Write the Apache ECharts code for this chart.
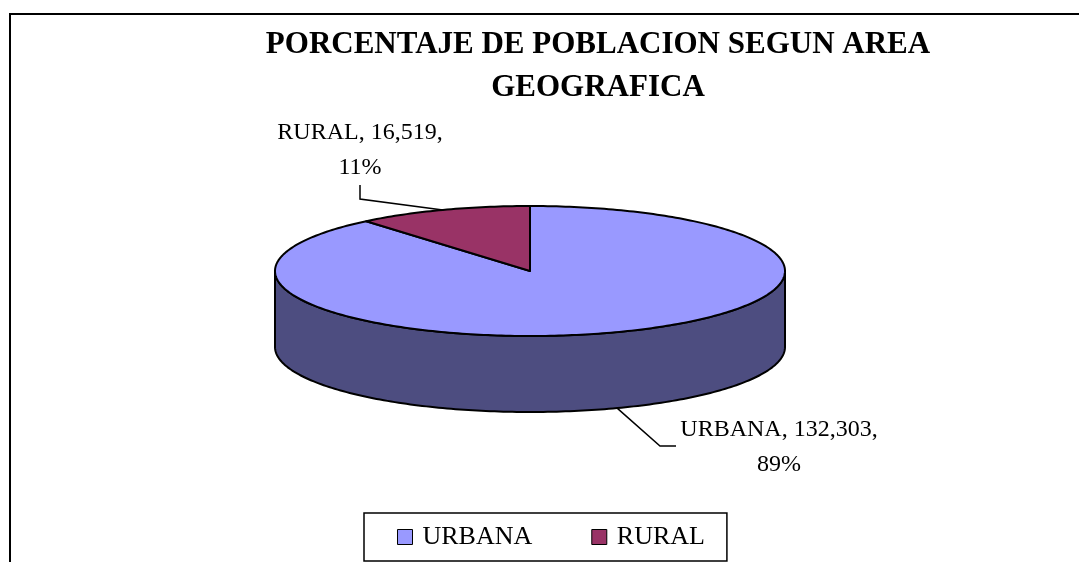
<!DOCTYPE html>
<html><head><meta charset="utf-8">
<script src="https://cdn.jsdelivr.net/npm/echarts@6/dist/echarts.min.js"></script>
<style>html,body{margin:0;padding:0;background:#fff}#c{width:1079px;height:562px}</style>
</head><body><div id="c"></div>
<script>
// ---- data ----
const categories = ['URBANA', 'RURAL'];
const values = [132303, 16519];
const titleLines = ['PORCENTAJE DE POBLACION SEGUN AREA', 'GEOGRAFICA'];

// ---- styles / layout ----
const topColors = ['#9999FF', '#993366'];
const sideColors = ['#4D4D80', '#4D1A33'];
const PIE = {cx: 530, cy: 271, rx: 255, ry: 65, depth: 76};
const LABEL_LAYOUT = [
  {elbow: [660, 446], end: [676, 446], text: [779, 447]},
  {elbow: [360, 199], end: [360, 185], text: [360, 150]}
];
const SERIF = "'Liberation Serif','Times New Roman',serif";

const total = values.reduce((a, b) => a + b, 0);

function renderItem(params, api) {
  const i = params.seriesIndex;
  let before = 0;
  for (let k = 0; k < i; k++) before += values[k];
  const a0 = 90 - before / total * 360;
  const a1 = 90 - (before + values[i]) / total * 360;
  const rad = Math.PI / 180;
  const pt = (a, dy) => [PIE.cx + PIE.rx * Math.cos(a * rad), PIE.cy - PIE.ry * Math.sin(a * rad) + (dy || 0)];
  const arc = (from, to, dy) => {
    const pts = [];
    const n = Math.max(2, Math.ceil(Math.abs(to - from)));
    for (let s = 0; s <= n; s++) pts.push(pt(from + (to - from) * s / n, dy));
    return pts;
  };
  const children = [];
  for (const [f0, f1] of [[-540, -360], [-180, 0], [180, 360]]) {
    const s = Math.max(a1, f0), e = Math.min(a0, f1);
    if (e > s) {
      const pts = arc(s, e, 0).concat(arc(e, s, PIE.depth));
      children.push({type: 'polygon', shape: {points: pts}, z2: 1,
        style: {fill: sideColors[i], stroke: '#000', lineWidth: 2, lineJoin: 'round'}});
    }
  }
  const topPts = [[PIE.cx, PIE.cy]].concat(arc(a1, a0, 0));
  children.push({type: 'polygon', shape: {points: topPts}, z2: 2,
    style: {fill: topColors[i], stroke: '#000', lineWidth: 2, lineJoin: 'round'}});

  const mid = (a0 + a1) / 2;
  const front = Math.sin(mid * rad) < 0;
  const anchor = pt(mid, front ? PIE.depth : 0);
  const L = LABEL_LAYOUT[i];
  children.push({type: 'polyline', shape: {points: [anchor, L.elbow, L.end]}, z2: 3,
    style: {stroke: '#000', lineWidth: 1.5, fill: null}});
  const pct = Math.round(values[i] / total * 100) + '%';
  children.push({type: 'text', x: L.text[0], y: L.text[1], z2: 3,
    style: {text: categories[i] + ', ' + values[i].toLocaleString('en-US') + ',\n' + pct,
      font: '24px ' + SERIF, fill: '#000', align: 'center', verticalAlign: 'middle', lineHeight: 35}});
  return {type: 'group', children: children};
}

const chart = echarts.init(document.getElementById('c'), null, {renderer: 'canvas'});
chart.setOption({
  animation: false,
  backgroundColor: '#fff',
  color: topColors,
  title: {
    text: titleLines.join('\n'),
    left: 593, top: 18, textAlign: 'center',
    textStyle: {fontFamily: SERIF, fontSize: 31, fontWeight: 'bold', color: '#000', lineHeight: 43}
  },
  legend: {
    data: categories, left: 364, top: 513, icon: 'rect', itemWidth: 15, itemHeight: 15, itemGap: 59,
    borderColor: '#000', borderWidth: 1.5, padding: [9, 22, 9, 33],
    textStyle: {fontFamily: SERIF, fontSize: 26, color: '#000', padding: [0, 0, 0, 5], lineHeight: 30},
    itemStyle: {borderColor: '#000', borderWidth: 1}
  },
  graphic: [{type: 'rect', shape: {x: 10, y: 14, width: 1200, height: 700}, silent: true,
    style: {fill: null, stroke: '#000', lineWidth: 2}}],
  series: categories.map((name, i) => ({
    type: 'custom', name: name, coordinateSystem: 'none', silent: true,
    itemStyle: {color: topColors[i]},
    renderItem: renderItem,
    data: [values[i]]
  }))
});
</script></body></html>
